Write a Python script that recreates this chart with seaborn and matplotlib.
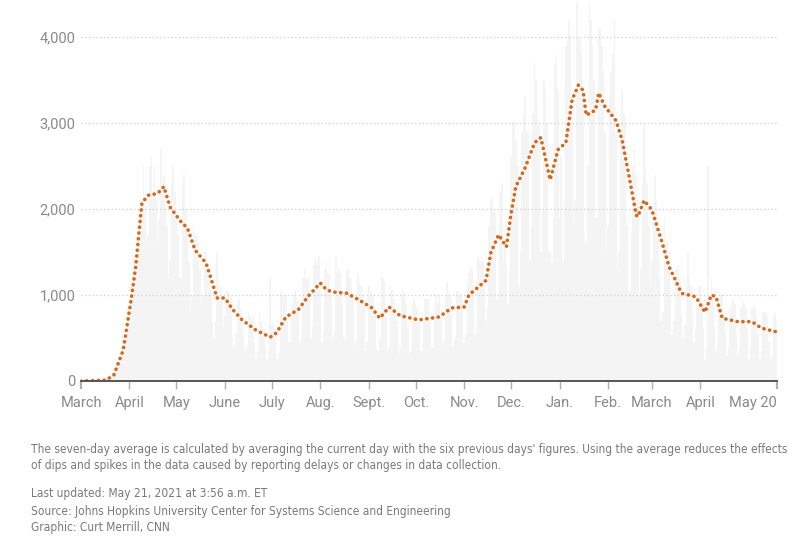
import matplotlib
matplotlib.use("Agg")
import matplotlib.pyplot as plt
from matplotlib import font_manager
import seaborn as sns
import pandas as pd

# ---------------- data ----------------
start_date = "2020-03-01"
# daily reported deaths, week rows Sun..Sat (estimated from the grey bars)
daily_deaths = [
    0, 1, 1, 3, 2, 1, 2,
    3, 4, 6, 4, 7, 10, 10,
    12, 18, 23, 40, 50, 60, 80,
    110, 140, 220, 250, 280, 400, 520,
    450, 600, 850, 1000, 1100, 1300, 1450,
    1200, 1400, 2000, 2100, 2100, 2500, 2000,
    1600, 1700, 2500, 2600, 2200, 2500, 2100,
    1600, 1900, 2700, 2300, 2400, 2000, 1800,
    1200, 1400, 2300, 2500, 2200, 1900, 1700,
    1200, 1200, 2300, 2400, 2000, 1800, 1400,
    800, 1000, 1800, 1700, 1700, 1600, 1300,
    900, 1000, 1500, 1500, 1300, 1200, 1100,
    700, 500, 700, 1500, 1200, 1100, 1000,
    650, 750, 1050, 1050, 1000, 950, 500,
    400, 550, 900, 950, 850, 700, 550,
    350, 400, 800, 750, 700, 750, 450,
    280, 350, 800, 700, 650, 600, 400,
    260, 350, 1200, 650, 650, 600, 270,
    250, 350, 1050, 1000, 950, 1000, 700,
    450, 450, 900, 1000, 1050, 950, 900,
    450, 550, 1200, 1300, 1200, 1200, 1050,
    500, 650, 1350, 1450, 1400, 1450, 1150,
    450, 550, 1300, 1400, 1250, 1250, 1000,
    500, 550, 1450, 1250, 1300, 1250, 900,
    500, 450, 1300, 1300, 1200, 1100, 1000,
    400, 450, 1250, 1150, 1100, 1000, 950,
    350, 450, 1100, 1050, 1000, 1000, 850,
    400, 350, 500, 1250, 1200, 1150, 750,
    350, 400, 1100, 1050, 950, 850, 700,
    300, 400, 1000, 1050, 950, 900, 650,
    300, 350, 900, 950, 900, 850, 700,
    350, 350, 700, 950, 950, 950, 750,
    400, 400, 800, 1000, 900, 1000, 750,
    400, 450, 950, 1150, 1050, 1000, 950,
    400, 500, 1050, 1050, 1000, 1000, 950,
    450, 550, 1150, 1250, 1350, 1300, 1100,
    550, 650, 1450, 1400, 1450, 1400, 1200,
    700, 850, 1800, 2100, 2150, 2000, 1950,
    950, 1050, 2200, 2300, 1400, 1650, 1350,
    900, 1300, 2600, 3000, 3000, 2800, 2500,
    1100, 1500, 2900, 3100, 3300, 2900, 2900,
    1400, 1800, 3100, 3700, 3500, 3200, 3000,
    1500, 2000, 3500, 3400, 3000, 1500, 1500,
    1400, 1900, 3700, 3800, 3400, 1900, 2600,
    1400, 2100, 3900, 4000, 4200, 4000, 3300,
    1800, 2100, 4400, 4000, 4000, 3800, 3400,
    1700, 1600, 2500, 4400, 4200, 3900, 3500,
    1900, 1900, 4100, 4100, 3900, 3600, 2900,
    1500, 1800, 3300, 3600, 3800, 4200, 2900,
    1300, 1500, 3000, 3400, 3100, 3000, 1800,
    950, 1050, 1700, 2500, 2700, 2400, 2100,
    1000, 1300, 2300, 3000, 2500, 2300, 1800,
    1100, 1400, 1900, 2400, 2100, 1700, 1200,
    700, 800, 1900, 1600, 1600, 1500, 1000,
    550, 700, 1300, 1300, 1350, 1200, 750,
    500, 650, 1100, 1500, 1200, 1100, 800,
    450, 600, 900, 1100, 1100, 900, 600,
    250, 400, 2500, 950, 1200, 950, 650,
    350, 450, 900, 1000, 1000, 800, 550,
    300, 400, 850, 900, 950, 900, 550,
    300, 400, 850, 950, 900, 850, 600,
    250, 400, 850, 900, 850, 750, 550,
    250, 350, 800, 800, 800, 750, 450,
    250, 300, 750, 800, 700,
]

# seven-day average
avg_dates = [
    "2020-03-01", "2020-03-17", "2020-03-22", "2020-03-28", "2020-04-02",
    "2020-04-05", "2020-04-07", "2020-04-09", "2020-04-13", "2020-04-19",
    "2020-04-23", "2020-04-27", "2020-05-04", "2020-05-08", "2020-05-13",
    "2020-05-20", "2020-05-24", "2020-05-27", "2020-06-01", "2020-06-06",
    "2020-06-12", "2020-06-21", "2020-06-30", "2020-07-04", "2020-07-10",
    "2020-07-18", "2020-07-24", "2020-08-01", "2020-08-05", "2020-08-09",
    "2020-08-18", "2020-08-26", "2020-09-03", "2020-09-08", "2020-09-14",
    "2020-09-21", "2020-10-03", "2020-10-16", "2020-10-24", "2020-11-01",
    "2020-11-04", "2020-11-15", "2020-11-18", "2020-11-23", "2020-11-28",
    "2020-12-01", "2020-12-04", "2020-12-10", "2020-12-16", "2020-12-20",
    "2020-12-26", "2020-12-31", "2021-01-05", "2021-01-09", "2021-01-13",
    "2021-01-16", "2021-01-18", "2021-01-24", "2021-01-26", "2021-01-30",
    "2021-02-06", "2021-02-10", "2021-02-14", "2021-02-19", "2021-02-20",
    "2021-02-24", "2021-03-01", "2021-03-07", "2021-03-12", "2021-03-20",
    "2021-03-29", "2021-04-04", "2021-04-08", "2021-04-11", "2021-04-15",
    "2021-04-25", "2021-05-04", "2021-05-10", "2021-05-20",
]
avg_values = [
    0, 10, 70, 360, 940,
    1330, 1720, 2070, 2160, 2180,
    2260, 2020, 1850, 1780, 1520,
    1370, 1140, 965, 965, 830,
    710, 590, 510, 560, 745,
    830, 980, 1140, 1060, 1035,
    1020, 940, 850, 730, 860,
    760, 710, 745, 850, 860,
    1000, 1170, 1490, 1700, 1560,
    1950, 2260, 2480, 2770, 2830,
    2340, 2690, 2770, 3270, 3440,
    3380, 3090, 3150, 3350, 3190,
    3030, 2800, 2420, 1930, 1910,
    2100, 1990, 1640, 1330, 1020,
    980, 800, 1000, 980, 730,
    690, 690, 615, 570,
]

tick_dates = ["2020-03-01", "2020-04-01", "2020-05-01", "2020-06-01", "2020-07-01",
              "2020-08-01", "2020-09-01", "2020-10-01", "2020-11-01", "2020-12-01",
              "2021-01-01", "2021-02-01", "2021-03-01", "2021-04-01", "2021-05-20"]
tick_labels = ["March", "April", "May", "June", "July", "Aug.", "Sept.", "Oct.",
               "Nov.", "Dec.", "Jan.", "Feb.", "March", "April", "May 20"]
y_ticks = [0, 1000, 2000, 3000, 4000]
y_labels = ["0", "1,000", "2,000", "3,000", "4,000"]

note_lines = [
    "The seven-day average is calculated by averaging the current day with the six previous days' figures. Using the average reduces the effects",
    "of dips and spikes in the data caused by reporting delays or changes in data collection.",
]
credit_lines = [
    "Last updated: May 21, 2021 at 3:56 a.m. ET",
    "Source: Johns Hopkins University Center for Systems Science and Engineering",
    "Graphic: Curt Merrill, CNN",
]

# ---------------- frames ----------------
daily = pd.DataFrame({
    "date": pd.date_range(start_date, periods=len(daily_deaths), freq="D"),
    "deaths": daily_deaths,
})
avg = pd.DataFrame({"date": pd.to_datetime(avg_dates), "avg": avg_values})

# ---------------- plot ----------------
sns.set_theme(style="white")
plt.rcParams["font.family"] = ["Roboto", "DejaVu Sans"]

# pick a condensed font for the notes if one is installed
note_props = None
for f in font_manager.fontManager.ttflist:
    st = str(f.stretch).lower()
    nm = f.name.lower()
    if (("condensed" in st or "narrow" in nm or "condensed" in nm)
            and f.weight in (400, "normal", "regular") and f.style == "normal"):
        note_props = font_manager.FontProperties(fname=f.fname)
        break

fig = plt.figure(figsize=(8.0, 5.36), dpi=100)
ax = fig.add_axes([81 / 800, 155 / 536, 696 / 800, 381 / 536])

ax.bar(daily["date"], daily["deaths"], width=1.0, color="#f4f4f4",
       edgecolor="none", linewidth=0, zorder=1)

sns.lineplot(data=avg, x="date", y="avg", ax=ax, color="#d2691e",
             linewidth=2.6, zorder=3, legend=False)
line = ax.get_lines()[-1]
line.set_linestyle((0, (0.05, 1.55)))
line.set_dash_capstyle("round")

ax.set_xlim(pd.Timestamp("2020-03-01"), pd.Timestamp("2021-05-20"))
ax.set_ylim(0, 4430)

for yv in y_ticks[1:]:
    ax.axhline(yv, color="#cfcfcf", linewidth=0.9, linestyle=(0, (1, 2)), zorder=2)

for s in ["top", "right", "left"]:
    ax.spines[s].set_visible(False)
ax.spines["bottom"].set_color("#555555")
ax.spines["bottom"].set_linewidth(1.4)
ax.spines["bottom"].set_zorder(4)

ax.set_xticks(pd.to_datetime(tick_dates))
ax.set_xticklabels(tick_labels)
ax.tick_params(axis="x", length=6, width=1, color="#b0b0b0",
               labelsize=10.5, labelcolor="#8a8a8a", pad=5, bottom=True)
mt = ax.xaxis.get_major_ticks()
for t in (mt[0], mt[-1]):
    t.tick1line.set_color("#555555")
    t.tick1line.set_markeredgewidth(1.6)
ax.get_xticklabels()[-1].set_ha("right")

ax.set_yticks(y_ticks)
ax.set_yticklabels(y_labels)
ax.tick_params(axis="y", length=0, labelsize=10.5, labelcolor="#8a8a8a", pad=4)
ax.set_xlabel("")
ax.set_ylabel("")

all_lines = list(zip([450, 466], note_lines)) + list(zip([494, 511, 528], credit_lines))
texts = []
for yv, txt in all_lines:
    kw = dict(fontsize=9.4, color="#7a7a7a", va="center", ha="left")
    if note_props is not None:
        kw["fontproperties"] = note_props
        kw.pop("fontsize")
    t = fig.text(31 / 800, 1 - yv / 536, txt, **kw)
    if note_props is not None:
        t.set_fontsize(9.4)
    texts.append(t)

# shrink note text so the longest line spans the same width as the reference
fig.canvas.draw()
r = fig.canvas.get_renderer()
w = texts[0].get_window_extent(r).width
if w > 751:
    scale = 751 / w
    for t in texts:
        t.set_fontsize(t.get_fontsize() * scale)

fig.savefig("out.png", dpi=100, facecolor="white")
